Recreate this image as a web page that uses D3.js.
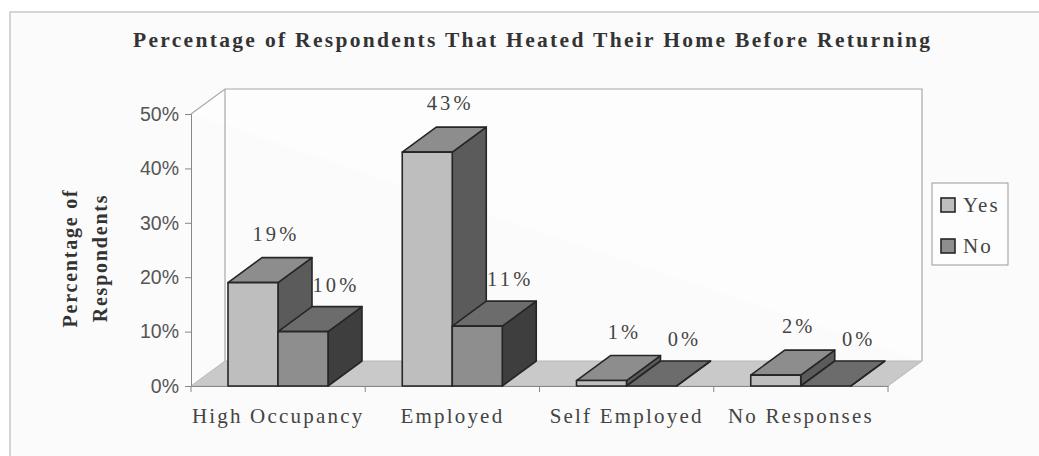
<!DOCTYPE html>
<html>
  <head>
    <meta charset="utf-8">
    <title>Heated Home Before Returning</title>
    <script src="https://d3js.org/d3.v7.min.js"></script>
    <style>
      body { margin: 0; background: #fff; }
      .serif { font-family: "Liberation Serif", "Times New Roman", serif; }
      .sans { font-family: "Liberation Sans", Arial, sans-serif; }
    </style>
  </head>
  <body>
    <svg width="1039" height="456"></svg>

    <script>
      // data
      const categories = ["High Occupancy", "Employed", "Self Employed", "No Responses"];
      const series = ["Yes", "No"];
      const yesValues = [0.19, 0.43, 0.01, 0.02];
      const noValues = [0.10, 0.11, 0.00, 0.00];
      const yTicks = [0, 0.1, 0.2, 0.3, 0.4, 0.5];

      const values = { Yes: yesValues, No: noValues };
      const colors = {
        Yes: { front: "#bebebe", top: "#8d8d8d", side: "#5b5b5b" },
        No:  { front: "#8e8e8e", top: "#6c6c6c", side: "#3e3e3e" }
      };
      // depth of the 3d view
      const dx = 34, dy = -25;

      const svg = d3.select("svg");

      // frame
      svg.append("rect").attr("x", 10).attr("y", 12).attr("width", 1040).attr("height", 460)
        .attr("fill", "#fbfbfb").attr("stroke", "#c8c8c8").attr("stroke-width", 1.5);

      // scales
      const y = d3.scaleLinear().domain([0, 0.5]).range([386, 114]);
      const x = d3.scaleBand().domain(categories).range([191, 888]);
      const xs = d3.scaleBand().domain(series).range([37, 137]);

      // title
      svg.append("text").attr("class", "serif")
        .attr("x", 133).attr("y", 47)
        .attr("textLength", 797).attr("lengthAdjust", "spacing")
        .attr("font-size", 21.5).attr("font-weight", "bold").attr("fill", "#333")
        .text("Percentage of Respondents That Heated Their Home Before Returning");

      // back wall
      const wall = "#a8a8a8";
      svg.append("path")
        .attr("d", `M${191},${y(0.5)} L${191 + dx},${y(0.5) + dy} L${888 + dx},${y(0.5) + dy} L${888 + dx},${y(0) + dy}`)
        .attr("fill", "#fdfdfd").attr("stroke", wall).attr("stroke-width", 1.2);
      svg.append("line").attr("x1", 191 + dx).attr("x2", 191 + dx)
        .attr("y1", y(0.5) + dy).attr("y2", y(0) + dy).attr("stroke", wall).attr("stroke-width", 1.2);

      // floor
      svg.append("path")
        .attr("d", `M191,${y(0)} L888,${y(0)} L${888 + dx},${y(0) + dy} L${191 + dx},${y(0) + dy} Z`)
        .attr("fill", "#c9c9c9").attr("stroke", "#b8b8b8").attr("stroke-width", 1);

      // axes
      const yAxis = svg.append("g").attr("transform", "translate(191,0)")
        .call(d3.axisLeft(y).tickValues(yTicks).tickSize(6).tickPadding(6)
          .tickFormat(d3.format(".0%")));
      yAxis.select(".domain").attr("stroke", "#888");
      yAxis.selectAll(".tick line").attr("stroke", "#888");
      yAxis.selectAll("text").attr("class", "sans").attr("font-size", 19.5).attr("fill", "#555");

      const xAxis = svg.append("g").attr("transform", `translate(0,${y(0)})`)
        .call(d3.axisBottom(x).tickSize(0).tickPadding(22));
      xAxis.select(".domain").attr("stroke", "#888");
      xAxis.selectAll("text").attr("class", "serif").attr("font-size", 21)
        .attr("fill", "#444").attr("letter-spacing", 2.2);
      // category boundary ticks
      xAxis.selectAll(".sep").data(categories.concat([null])).enter().append("line")
        .attr("x1", (d, i) => i < categories.length ? x(d) : x.range()[1])
        .attr("x2", (d, i) => i < categories.length ? x(d) : x.range()[1])
        .attr("y1", 0).attr("y2", 6).attr("stroke", "#888");

      // bars
      const bars = [];
      categories.forEach((c, ci) => {
        series.forEach(s => bars.push({ cat: c, series: s, value: values[s][ci] }));
      });

      const g = svg.append("g");
      bars.forEach(b => {
        const x0 = x(b.cat) + xs(b.series), x1 = x0 + xs.bandwidth();
        const y0 = y(0), y1 = y(b.value);
        const col = colors[b.series];
        const stroke = { stroke: "#262626", "stroke-width": 1.6, "stroke-linejoin": "round" };
        const side = g.append("path")
          .attr("d", `M${x1},${y1} L${x1 + dx},${y1 + dy} L${x1 + dx},${y0 + dy} L${x1},${y0} Z`)
          .attr("fill", col.side);
        const top = g.append("path")
          .attr("d", `M${x0},${y1} L${x0 + dx},${y1 + dy} L${x1 + dx},${y1 + dy} L${x1},${y1} Z`)
          .attr("fill", col.top);
        const front = g.append("rect")
          .attr("x", x0).attr("y", y1).attr("width", x1 - x0).attr("height", y0 - y1)
          .attr("fill", col.front);
        [side, top, front].forEach(p => Object.entries(stroke).forEach(([k, v]) => p.attr(k, v)));
      });

      // value labels
      const labelOffset = { Yes: { x: 6, y: -17 }, No: { x: 16, y: -15 } };
      svg.append("g").selectAll("text").data(bars).enter().append("text")
        .attr("class", "serif")
        .attr("x", d => x(d.cat) + xs(d.series) + xs.bandwidth() / 2 + dx / 2 + labelOffset[d.series].x)
        .attr("y", d => y(d.value) + dy + labelOffset[d.series].y)
        .attr("text-anchor", "middle").attr("font-size", 20.5).attr("fill", "#444")
        .attr("letter-spacing", 3.2)
        .text(d => d3.format(".0%")(d.value));

      // y axis title
      const yt = svg.append("text").attr("class", "serif")
        .attr("transform", "translate(0,258) rotate(-90)")
        .attr("text-anchor", "middle").attr("font-size", 20).attr("font-weight", "bold")
        .attr("fill", "#333").attr("letter-spacing", 1.8);
      yt.append("tspan").attr("x", 0).attr("y", 77).text("Percentage of");
      yt.append("tspan").attr("x", 0).attr("y", 107).text("Respondents");

      // legend
      const lg = svg.append("g").attr("transform", "translate(932,183)");
      lg.append("rect").attr("width", 76).attr("height", 82)
        .attr("fill", "#fdfdfd").attr("stroke", "#999").attr("stroke-width", 1);
      lg.selectAll(".item").data(series).enter().append("g")
        .attr("transform", (d, i) => `translate(9,${15 + i * 41})`)
        .each(function (d) {
          const it = d3.select(this);
          it.append("rect").attr("width", 14).attr("height", 14)
            .attr("fill", colors[d].front).attr("stroke", "#262626").attr("stroke-width", 1.6);
          it.append("text").attr("class", "serif").attr("x", 22).attr("y", 14)
            .attr("font-size", 21).attr("fill", "#444").attr("letter-spacing", 2).text(d);
        });
    </script>
  </body>
</html>
